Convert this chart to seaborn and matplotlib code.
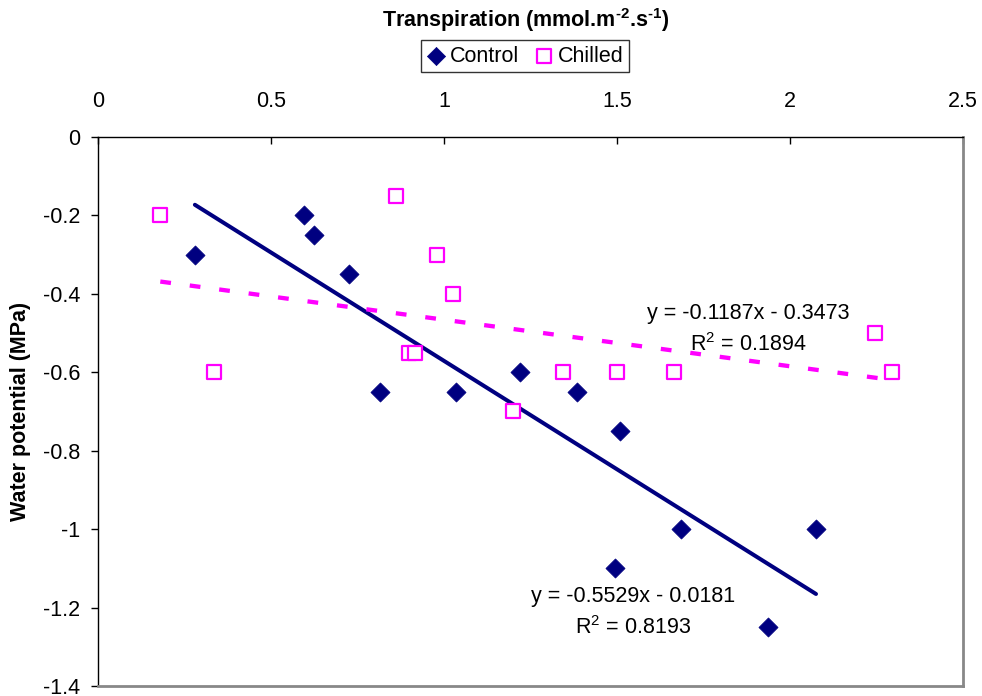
import numpy as np
import pandas as pd
import seaborn as sns
import matplotlib.pyplot as plt

# values
control_x = [0.28, 0.595, 0.625, 0.725, 0.815, 1.035, 1.22, 1.385, 1.51, 1.495, 1.685, 1.935, 2.075]
control_y = [-0.3, -0.2, -0.25, -0.35, -0.65, -0.65, -0.6, -0.65, -0.75, -1.1, -1.0, -1.25, -1.0]
chilled_x = [0.18, 0.335, 0.86, 0.90, 0.915, 0.98, 1.025, 1.20, 1.345, 1.50, 1.665, 2.245, 2.295]
chilled_y = [-0.2, -0.6, -0.15, -0.55, -0.55, -0.3, -0.4, -0.7, -0.6, -0.6, -0.6, -0.5, -0.6]

# trend line coefficients shown on the chart
control_fit = (-0.5529, -0.0181, 0.8193)
chilled_fit = (-0.1187, -0.3473, 0.1894)

x_ticks = [0, 0.5, 1, 1.5, 2, 2.5]
x_tick_labels = ["0", "0.5", "1", "1.5", "2", "2.5"]
y_ticks = [0, -0.2, -0.4, -0.6, -0.8, -1, -1.2, -1.4]
y_tick_labels = ["0", "-0.2", "-0.4", "-0.6", "-0.8", "-1", "-1.2", "-1.4"]

NAVY = "#000080"
MAGENTA = "#FF00FF"

sns.set_style("white")
plt.rcParams["font.family"] = ["Liberation Sans", "DejaVu Sans"]
plt.rcParams["mathtext.fontset"] = "custom"
plt.rcParams["mathtext.rm"] = "Liberation Sans"
plt.rcParams["mathtext.bf"] = "Liberation Sans:bold"
plt.rcParams["axes.unicode_minus"] = False
for key in ["text.color", "axes.labelcolor", "xtick.color", "ytick.color"]:
    plt.rcParams[key] = "black"

FS = 15.5

fig = plt.figure(figsize=(9.82, 6.96), dpi=100)
ax = fig.add_axes([0.0998, 0.0144, 0.8809, 0.7888])

control = pd.DataFrame({"x": control_x, "y": control_y})
chilled = pd.DataFrame({"x": chilled_x, "y": chilled_y})

# trend lines
cx = np.array([min(control_x), max(control_x)])
hx = np.array([min(chilled_x), max(chilled_x)])
ax.plot(cx, control_fit[0] * cx + control_fit[1], color=NAVY, lw=2.9, zorder=2)
ax.plot(hx, chilled_fit[0] * hx + chilled_fit[1], color=MAGENTA, lw=3.1,
        dashes=(2.5, 4.4), zorder=2)

sns.scatterplot(data=control, x="x", y="y", marker="D", s=95, color=NAVY,
                edgecolor=NAVY, linewidth=0.5, ax=ax, label="Control", zorder=3)
sns.scatterplot(data=chilled, x="x", y="y", marker="s", s=110, facecolor="white",
                edgecolor=MAGENTA, linewidth=1.6, ax=ax, label="Chilled", zorder=3)

ax.set_xlim(0, 2.5)
ax.set_ylim(-1.4, 0)
ax.set_xticks(x_ticks)
ax.set_xticklabels(x_tick_labels, fontsize=FS)
ax.set_yticks(y_ticks)
ax.set_yticklabels(y_tick_labels, fontsize=FS)
ax.xaxis.tick_top()
ax.tick_params(axis="x", direction="in", length=5, width=1, color="black", pad=18)
ax.tick_params(axis="y", direction="out", length=5, width=1, color="black", pad=8, left=True)
ax.set_xlabel("")
ax.set_ylabel("Water potential (MPa)", fontsize=FS, fontweight="bold")
ax.yaxis.set_label_coords(-0.078, 0.5)

for side in ["left", "top"]:
    ax.spines[side].set_color("black")
    ax.spines[side].set_linewidth(1.0)
for side in ["right", "bottom"]:
    ax.spines[side].set_color("#888888")
    ax.spines[side].set_linewidth(2.0)

# regression equations
ax.text(1.88, -0.449, "y = -0.1187x - 0.3473", fontsize=FS, ha="center", va="center")
ax.text(1.88, -0.530, r"R$^2$ = 0.1894", fontsize=FS, ha="center", va="center")
ax.text(1.545, -1.173, "y = -0.5529x - 0.0181", fontsize=FS, ha="center", va="center")
ax.text(1.545, -1.252, r"R$^2$ = 0.8193", fontsize=FS, ha="center", va="center")

fig.text(0.535, 0.971, "Transpiration (mmol.m$^{\\mathbf{\u2010 2}}$.s$^{\\mathbf{\u2010 1}}$)",
         fontsize=FS, fontweight="bold", ha="center", va="center")

handles, labels = ax.get_legend_handles_labels()
ax.legend_.remove()
leg = fig.legend(handles, labels, loc="center", bbox_to_anchor=(0.535, 0.9195), ncol=2,
                 fontsize=FS, frameon=True, fancybox=False, edgecolor="black",
                 handletextpad=0.2, columnspacing=0.7, borderpad=0.25,
                 handlelength=0.9, markerscale=0.95)
leg.get_frame().set_linewidth(1.0)

fig.savefig("out.png", dpi=100)
